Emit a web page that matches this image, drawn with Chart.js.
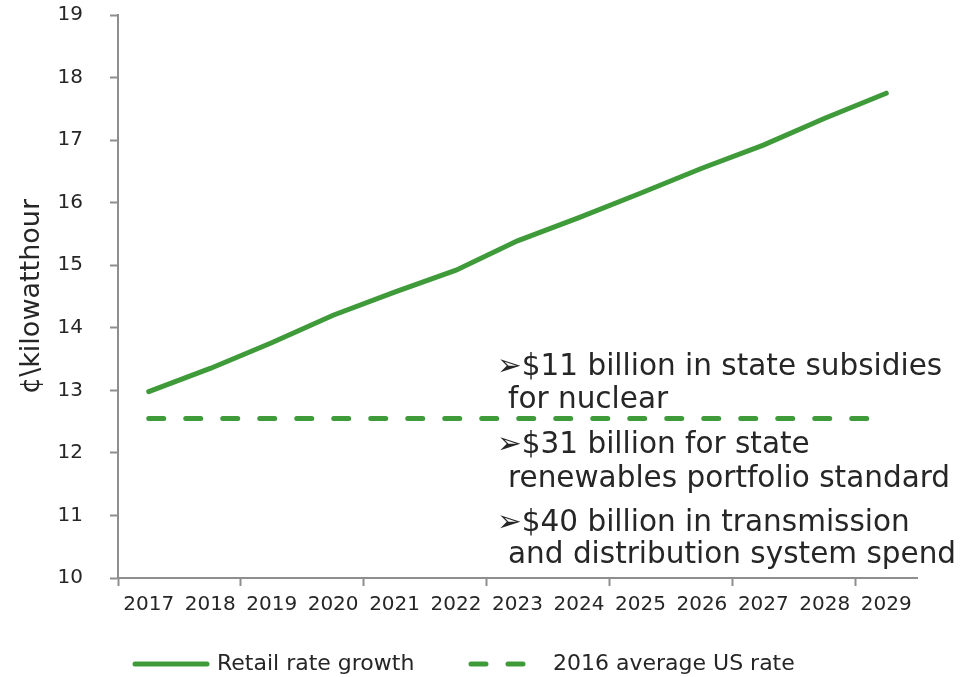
<!DOCTYPE html>
<html>
<head>
<meta charset="utf-8">
<title>Retail rate growth</title>
<script src="https://cdn.jsdelivr.net/npm/chart.js@4"></script>
<style>
    html, body { margin: 0; padding: 0; background: #fff; }
    #wrap { width: 976px; height: 677px; position: relative; }
</style>
</head>
<body>
<div id="wrap"><canvas id="rateChart"></canvas></div>
<script>
// data
const years = ['2017', '2018', '2019', '2020', '2021', '2022', '2023', '2024', '2025', '2026', '2027', '2028', '2029'];
const retailRate = [12.98, 13.35, 13.76, 14.20, 14.57, 14.92, 15.39, 15.76, 16.15, 16.55, 16.92, 17.35, 17.75];
const avgUsRate = [12.55, 12.55, 12.55, 12.55, 12.55, 12.55, 12.55, 12.55, 12.55, 12.55, 12.55, 12.55, 12.55];
const seriesNames = ['Retail rate growth', '2016 average US rate'];
const yMin = 10;
const yMax = 19;
const yTitle = '¢\\kilowatthour';
const noteLines = [
    ['➢$11 billion in state subsidies', 'for nuclear'],
    ['➢$31 billion for state', 'renewables portfolio standard'],
    ['➢$40 billion in transmission', 'and distribution system spend']
];

const GREEN = '#3f9b3a';
const AXIS = '#8e8e8e';
const TEXT = '#262626';
const FONT = "'DejaVu Sans', Verdana, sans-serif";

// bullet notes on the right side of the plot
const notesPlugin = {
    id: 'notes',
    afterDraw(chart) {
        const ctx = chart.ctx;
        const baselines = [[375, 408], [453, 487], [531, 563]];
        ctx.save();
        ctx.font = '29.5px ' + FONT;
        ctx.fillStyle = TEXT;
        ctx.textBaseline = 'alphabetic';
        noteLines.forEach((lines, i) => {
            ctx.fillText(lines[0], 497, baselines[i][0]);
            ctx.fillText(lines[1], 508, baselines[i][1]);
        });
        ctx.restore();
    }
};

// legend drawn by hand so the two entries sit where the original has them
const legendPlugin = {
    id: 'lineLegend',
    afterDraw(chart) {
        const ctx = chart.ctx;
        const starts = [133, 469];
        const y = 664;
        ctx.save();
        ctx.font = '22px ' + FONT;
        ctx.textBaseline = 'middle';
        chart.data.datasets.forEach((ds, i) => {
            ctx.beginPath();
            ctx.strokeStyle = ds.borderColor;
            ctx.lineWidth = ds.borderWidth;
            ctx.lineCap = 'round';
            ctx.setLineDash(ds.borderDash || []);
            ctx.moveTo(starts[i] + 2, y);
            ctx.lineTo(starts[i] + 74, y);
            ctx.stroke();
            ctx.setLineDash([]);
            ctx.fillStyle = TEXT;
            ctx.fillText(ds.label, starts[i] + 84, y);
        });
        ctx.restore();
    }
};

new Chart(document.getElementById('rateChart'), {
    type: 'line',
    data: {
        labels: years,
        datasets: [
            {
                label: seriesNames[0],
                data: retailRate,
                borderColor: GREEN,
                borderWidth: 5,
                borderCapStyle: 'round',
                pointRadius: 0,
                tension: 0
            },
            {
                label: seriesNames[1],
                data: avgUsRate,
                borderColor: GREEN,
                borderWidth: 5,
                borderCapStyle: 'round',
                borderDash: [15, 22],
                pointRadius: 0,
                tension: 0
            }
        ]
    },
    options: {
        responsive: true,
        maintainAspectRatio: false,
        animation: false,
        layout: {
            padding: { left: 0, top: 15, right: 59, bottom: 59 }
        },
        plugins: {
            legend: { display: false },
            tooltip: { enabled: false }
        },
        scales: {
            x: {
                offset: true,
                afterFit: (scale) => { scale.height = 40; },
                border: { display: true, color: AXIS, width: 2 },
                grid: {
                    offset: true,
                    drawOnChartArea: false,
                    drawTicks: true,
                    tickLength: 8,
                    tickWidth: 2,
                    tickColor: (c) => (c.index % 2 === 0 ? AXIS : 'rgba(0,0,0,0)')
                },
                ticks: {
                    autoSkip: false,
                    maxRotation: 0,
                    padding: 7,
                    color: TEXT,
                    font: { family: FONT, size: 20 }
                }
            },
            y: {
                min: yMin,
                max: yMax,
                afterFit: (scale) => {
                    scale.width = 118;
                    scale.paddingTop = 0;
                    scale.paddingBottom = 0;
                },
                border: { display: true, color: AXIS, width: 2 },
                grid: {
                    drawOnChartArea: false,
                    drawTicks: true,
                    tickLength: 8,
                    tickWidth: 2,
                    tickColor: AXIS
                },
                ticks: {
                    stepSize: 1,
                    padding: 27,
                    color: TEXT,
                    font: { family: FONT, size: 20 }
                },
                title: {
                    display: true,
                    text: yTitle,
                    color: TEXT,
                    font: { family: FONT, size: 27 },
                    padding: { top: 16, bottom: 0 }
                }
            }
        }
    },
    plugins: [notesPlugin, legendPlugin]
});
</script>
</body>
</html>
